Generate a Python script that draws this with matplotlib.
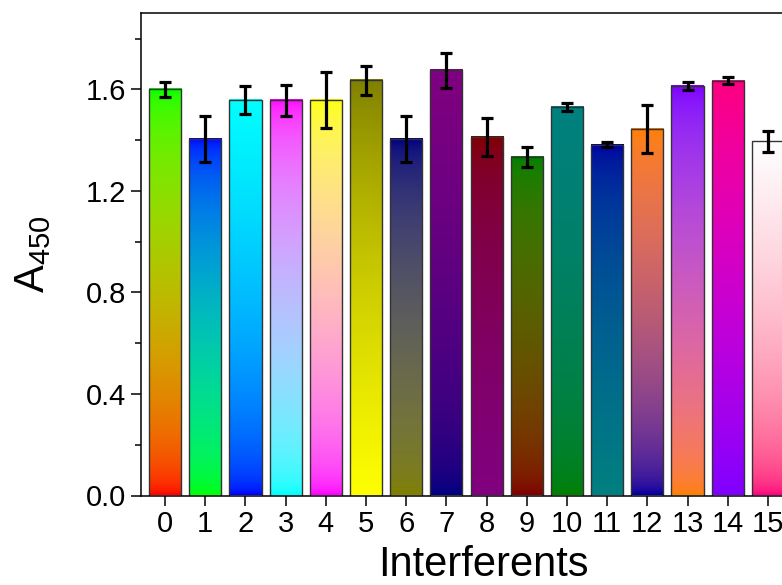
import numpy as np
import matplotlib
matplotlib.use("Agg")
import matplotlib.pyplot as plt
from matplotlib.colors import to_rgb

plt.rcParams['font.family'] = ['Liberation Sans', 'DejaVu Sans']
plt.rcParams['mathtext.fontset'] = 'custom'
plt.rcParams['mathtext.rm'] = 'Liberation Sans'
plt.rcParams['mathtext.it'] = 'Liberation Sans'

categories = [str(i) for i in range(16)]
values = [1.600, 1.405, 1.559, 1.557, 1.559, 1.636, 1.405, 1.676,
          1.412, 1.334, 1.531, 1.382, 1.445, 1.613, 1.635, 1.395]
errors = [0.028, 0.092, 0.055, 0.061, 0.110, 0.057, 0.091, 0.069,
          0.074, 0.040, 0.016, 0.010, 0.094, 0.017, 0.014, 0.041]
# gradient palette: bar i goes from palette[i] (bottom) to palette[i+1] (top)
palette = ['#FF0000', '#00FF00', '#0000FF', '#00FFFF', '#FF00FF', '#FFFF00',
           '#808000', '#000080', '#800080', '#800000', '#008000', '#008080',
           '#0000A0', '#FF8000', '#8000FF', '#FF0080', '#FFFFFF']


def to_lin(c):
    c = np.asarray(c)
    return np.where(c <= 0.04045, c / 12.92, ((c + 0.055) / 1.055) ** 2.4)


def to_srgb(c):
    c = np.clip(c, 0, 1)
    return np.where(c <= 0.0031308, c * 12.92, 1.055 * c ** (1 / 2.4) - 0.055)


W, H = 782, 585
fig = plt.figure(figsize=(W / 100, H / 100), dpi=100)
left, right, top, bottom = 141, 792, 13.3, 495.5
ax = fig.add_axes([left / W, (H - bottom) / H, (right - left) / W, (bottom - top) / H])

x = np.arange(len(categories))
width = 0.8
for i, (xi, v) in enumerate(zip(x, values)):
    c0 = to_lin(to_rgb(palette[i]))
    c1 = to_lin(to_rgb(palette[i + 1]))
    t = np.linspace(0, 1, 256)[:, None]
    grad = to_srgb(c0[None, :] * (1 - t) + c1[None, :] * t)[:, None, :]
    ax.imshow(grad, extent=(xi - width / 2, xi + width / 2, 0, v),
              origin='lower', aspect='auto', interpolation='bilinear', zorder=1)

ax.bar(x, values, width=width, facecolor='none', edgecolor='#333333',
       linewidth=1.0, zorder=2)
ax.errorbar(x, values, yerr=errors, fmt='none', ecolor='black',
            elinewidth=2.3, capsize=4.5, capthick=2.3, zorder=3)

ax.set_xlim(-0.6, 15.6)
ax.set_ylim(0, 1.9)
ax.set_xticks(x)
ax.set_xticklabels(categories)
ax.set_yticks([0.0, 0.4, 0.8, 1.2, 1.6])
ax.set_yticklabels(['0.0', '0.4', '0.8', '1.2', '1.6'])
ax.set_yticks(np.arange(0.2, 1.9, 0.4), minor=True)

ax.tick_params(axis='both', which='major', direction='out', length=7.5,
               width=1.1, labelsize=21, pad=3)
ax.tick_params(axis='y', which='minor', direction='out', length=4, width=1.1)
ax.tick_params(axis='x', which='minor', bottom=False)

for s in ax.spines.values():
    s.set_linewidth(1.1)
ax.spines['right'].set_visible(False)

ax.set_xlabel('Interferents', fontsize=30)
ax.xaxis.set_label_coords((483 - left) / (right - left), -0.103)
ax.set_ylabel(r'$\mathregular{A_{450}}$', fontsize=30)
ax.yaxis.set_label_coords(-0.135, 0.5)

fig.savefig('out.png', dpi=100)
